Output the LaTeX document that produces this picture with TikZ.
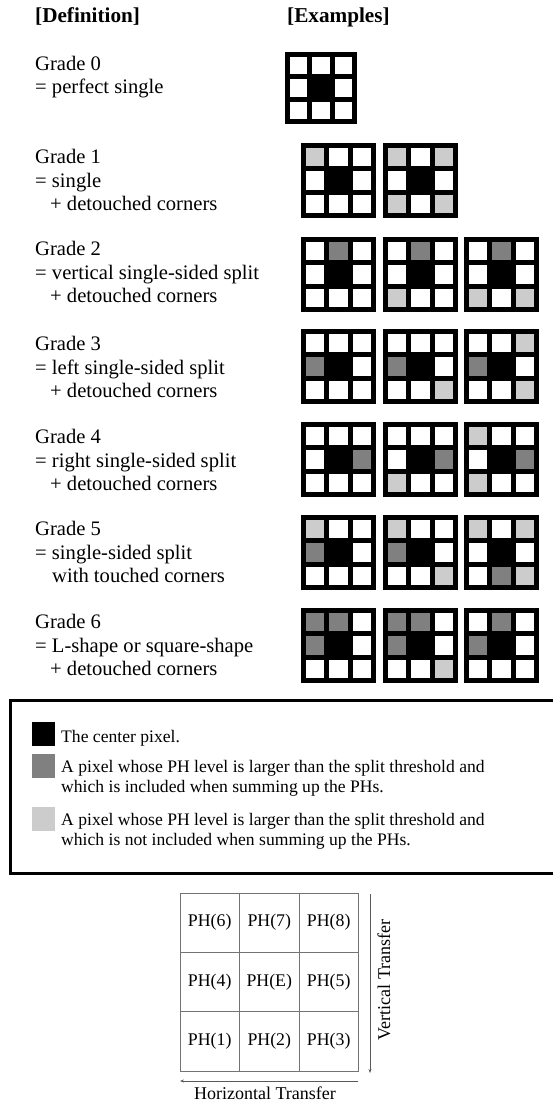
\documentclass[tikz,border=0pt]{standalone}
\usepackage{fontspec}
\setmainfont{Liberation Serif}
\usetikzlibrary{calc,arrows.meta}
\definecolor{pd}{gray}{0.5}
\definecolor{pl}{gray}{0.8}
\colorlet{pw}{white}
\colorlet{pk}{black}
\tikzset{
  gridbox/.style={fill=black, inner sep=0pt, outer sep=0pt, minimum size=#1},
  deftext/.style={anchor=base west, inner sep=0pt, font=\fontsize{20.6}{24}\selectfont},
  headtext/.style={anchor=base west, inner sep=0pt, font=\fontsize{21.2}{25}\selectfont\bfseries},
  legtext/.style={anchor=base west, inner sep=0pt, font=\fontsize{17.6}{20}\selectfont},
  legsq/.style={inner sep=0pt, outer sep=0pt, minimum width=23pt, minimum height=24pt, anchor=north west},
  phcell/.style={draw=black!55, line width=0.8pt, minimum size=59.3pt, inner sep=0pt, font=\fontsize{17.8}{20}\selectfont},
  transfer/.style={draw=black!65, line width=0.8pt, -{Stealth[length=4pt,width=3pt]}},
  transtext/.style={inner sep=0pt, font=\fontsize{18}{20}\selectfont},
}
\newcommand\pixgrid[5]{%
  \node[gridbox=#4pt] (#1) at ({#2+#4/2},{#3+#4/2}) {};
  \foreach \c [count=\i from 0] in {#5} {
    \pgfmathtruncatemacro\rr{\i/3}
    \pgfmathtruncatemacro\cc{\i-3*\rr}
    \fill[fill=\c] ($(#1.north west)+({(5+\cc*23.33)*#4/75},{(5+\rr*23.33)*#4/75})$) rectangle ++({18.33*#4/75},{18.33*#4/75});
  }
}
\begin{document}
\begin{tikzpicture}[x=1pt,y=-1pt]
\useasboundingbox (0,0) rectangle (553,1105);
% headers
\node[headtext] (hdef) at (35,23) {[Definition]};
\node[headtext] (hex) at (287,23) {[Examples]};
% definitions
\node[deftext] (d0a) at (35,71) {Grade 0};
\node[deftext] (d0b) at (35,94) {= perfect single};
\node[deftext] (d1a) at (35,163) {Grade 1};
\node[deftext] (d1b) at (35,187) {= single};
\node[deftext] (d1c) at (50,210) {+ detouched corners};
\node[deftext] (d2a) at (35,255) {Grade 2};
\node[deftext] (d2b) at (35,279) {= vertical single-sided split};
\node[deftext] (d2c) at (50,302) {+ detouched corners};
\node[deftext] (d3a) at (35,350) {Grade 3};
\node[deftext] (d3b) at (35,374) {= left single-sided split};
\node[deftext] (d3c) at (50,397) {+ detouched corners};
\node[deftext] (d4a) at (35,443) {Grade 4};
\node[deftext] (d4b) at (35,467) {= right single-sided split};
\node[deftext] (d4c) at (50,490) {+ detouched corners};
\node[deftext] (d5a) at (35,535) {Grade 5};
\node[deftext] (d5b) at (35,559) {= single-sided split};
\node[deftext] (d5c) at (52,582) {with touched corners};
\node[deftext] (d6a) at (35,628) {Grade 6};
\node[deftext] (d6b) at (35,652) {= L-shape or square-shape};
\node[deftext] (d6c) at (50,675) {+ detouched corners};
% example grids
\pixgrid{g0}{285}{52}{72}{pw,pw,pw,pw,pk,pw,pw,pw,pw}
\pixgrid{g1a}{301}{143}{75}{pl,pw,pw,pw,pk,pw,pw,pw,pw}
\pixgrid{g1b}{383}{143}{75}{pl,pw,pl,pw,pk,pw,pl,pw,pl}
\pixgrid{g2a}{301}{237}{75}{pw,pd,pw,pw,pk,pw,pw,pw,pw}
\pixgrid{g2b}{383}{237}{75}{pw,pd,pw,pw,pk,pw,pl,pw,pw}
\pixgrid{g2c}{464}{237}{75}{pw,pd,pw,pw,pk,pw,pl,pw,pl}
\pixgrid{g3a}{301}{329}{75}{pw,pw,pw,pd,pk,pw,pw,pw,pw}
\pixgrid{g3b}{383}{329}{75}{pw,pw,pw,pd,pk,pw,pw,pw,pl}
\pixgrid{g3c}{464}{329}{75}{pw,pw,pl,pd,pk,pw,pw,pw,pl}
\pixgrid{g4a}{301}{422}{75}{pw,pw,pw,pw,pk,pd,pw,pw,pw}
\pixgrid{g4b}{383}{422}{75}{pw,pw,pw,pw,pk,pd,pl,pw,pw}
\pixgrid{g4c}{464}{422}{75}{pl,pw,pw,pw,pk,pd,pl,pw,pw}
\pixgrid{g5a}{301}{515}{75}{pl,pw,pw,pd,pk,pw,pw,pw,pw}
\pixgrid{g5b}{383}{515}{75}{pl,pw,pw,pd,pk,pw,pw,pw,pl}
\pixgrid{g5c}{464}{515}{75}{pl,pw,pl,pw,pk,pw,pw,pd,pl}
\pixgrid{g6a}{301}{608}{75}{pd,pd,pw,pd,pk,pw,pw,pw,pw}
\pixgrid{g6b}{383}{608}{75}{pd,pd,pw,pd,pk,pw,pw,pw,pl}
\pixgrid{g6c}{464}{608}{75}{pw,pd,pw,pd,pk,pw,pw,pw,pw}
% legend box
\draw[line width=3pt] (556,700) -| (10,873) -- (556,873);
\node[legsq, fill=black] (lk) at (32,722) {};
\node[legsq, fill=pd] (ld) at (32,754) {};
\node[legsq, fill=pl] (ll) at (32,807) {};
\node[legtext] (t1) at (61,742) {The center pixel.};
\node[legtext] (t2a) at (61,772) {A pixel whose PH level is larger than the split threshold and};
\node[legtext] (t2b) at (61,792) {which is included when summing up the PHs.};
\node[legtext] (t3a) at (61,825) {A pixel whose PH level is larger than the split threshold and};
\node[legtext] (t3b) at (61,845) {which is not included when summing up the PHs.};
% PH table
\node[phcell] (p6) at (209.7,922.7) {PH(6)};
\node[phcell] (p7) at (269.3,922.7) {PH(7)};
\node[phcell] (p8) at (328.7,922.7) {PH(8)};
\node[phcell] (p4) at (209.7,982) {PH(4)};
\node[phcell] (pE) at (269.3,982) {PH(E)};
\node[phcell] (p5) at (328.7,982) {PH(5)};
\node[phcell] (p1) at (209.7,1041.3) {PH(1)};
\node[phcell] (p2) at (269.3,1041.3) {PH(2)};
\node[phcell] (p3) at (328.7,1041.3) {PH(3)};
\coordinate (vt) at (370,894);
\coordinate (vb) at (370,1073);
\coordinate (hr) at (358,1081);
\coordinate (hl) at (180,1081);
\draw[transfer] (vt) -- (vb);
\draw[transfer] (hr) -- (hl);
\node[transtext, rotate=90] (vtx) at (384,980) {Vertical Transfer};
\node[transtext] (htx) at (265,1093) {Horizontal Transfer};
\end{tikzpicture}
\end{document}
